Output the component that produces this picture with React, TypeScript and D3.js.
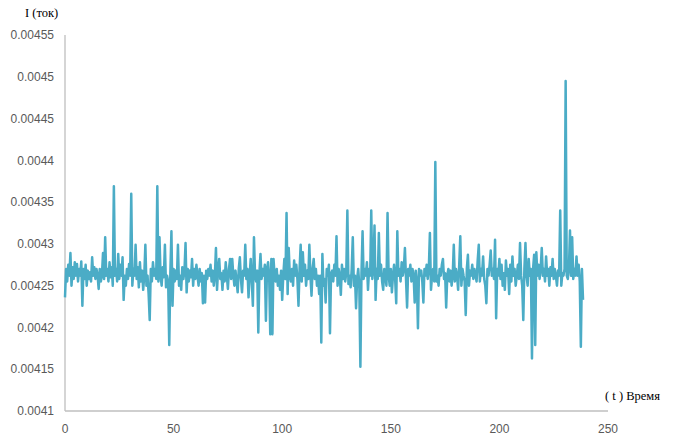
import React, { useEffect, useRef } from "react";
import * as d3 from "d3";

// time step between samples (t units)
const timeStep = 0.5;

// current values I (ток), one sample every 0.5 t, starting at t = 0
const currentValues: number[] = [
  // t 0 – 9.5
  0.004236, 0.00427, 0.004255, 0.004275, 0.004262, 0.004289, 0.00425, 0.004272, 0.004258, 0.004278,
  0.004262, 0.004276, 0.004255, 0.00427, 0.004262, 0.004279, 0.004226, 0.00427, 0.004258, 0.004275,
  // t 10 – 19.5
  0.00425, 0.004268, 0.004258, 0.004266, 0.004255, 0.004284, 0.004262, 0.004272, 0.004258, 0.00427,
  0.004262, 0.004246, 0.00427, 0.004255, 0.004262, 0.004289, 0.004258, 0.004308, 0.004262, 0.00427,
  // t 20 – 29.5
  0.004255, 0.004278, 0.00426, 0.004272, 0.00425, 0.004369, 0.004262, 0.00427, 0.004255, 0.004288,
  0.004258, 0.004275, 0.004262, 0.004284, 0.004233, 0.004262, 0.00425, 0.00427, 0.004258, 0.004276,
  // t 30 – 39.5
  0.004262, 0.00436, 0.00425, 0.00427, 0.004262, 0.004299, 0.004258, 0.004272, 0.004248, 0.004278,
  0.004255, 0.004268, 0.004245, 0.004262, 0.004299, 0.00425, 0.004262, 0.00424, 0.004209, 0.00427,
  // t 40 – 49.5
  0.004255, 0.004278, 0.004262, 0.00427, 0.004258, 0.004369, 0.004255, 0.004308, 0.004262, 0.00425,
  0.004272, 0.00426, 0.004299, 0.004248, 0.004262, 0.004255, 0.004179, 0.004265, 0.004315, 0.004226,
  // t 50 – 59.5
  0.00427, 0.004255, 0.004268, 0.004258, 0.004299, 0.00425, 0.004262, 0.004245, 0.004272, 0.004258,
  0.004268, 0.004301, 0.004242, 0.00427, 0.004255, 0.004268, 0.00426, 0.004282, 0.00425, 0.00427,
  // t 60 – 69.5
  0.004258, 0.004275, 0.004262, 0.00425, 0.00427, 0.004255, 0.004265, 0.004229, 0.004262, 0.00423,
  0.004268, 0.004258, 0.00427, 0.004262, 0.004275, 0.004255, 0.004268, 0.00425, 0.004262, 0.004295,
  // t 70 – 79.5
  0.004245, 0.00427, 0.004282, 0.004258, 0.004265, 0.004245, 0.004268, 0.004255, 0.004278, 0.004262,
  0.004246, 0.00427, 0.004282, 0.004258, 0.004282, 0.004262, 0.00425, 0.004268, 0.004255, 0.004242,
  // t 80 – 89.5
  0.00427, 0.004284, 0.004258, 0.004242, 0.004268, 0.004262, 0.004299, 0.004258, 0.00427, 0.004236,
  0.004262, 0.004282, 0.004255, 0.004226, 0.004308, 0.004262, 0.004255, 0.004268, 0.004194, 0.004265,
  // t 90 – 99.5
  0.004288, 0.004258, 0.00427, 0.004262, 0.004275, 0.004208, 0.00427, 0.004278, 0.004262, 0.004192,
  0.004282, 0.004192, 0.004282, 0.004262, 0.004255, 0.00427, 0.00425, 0.004262, 0.004245, 0.004268,
  // t 100 – 109.5
  0.004233, 0.004262, 0.004282, 0.004258, 0.004337, 0.00424, 0.004295, 0.004262, 0.004255, 0.00427,
  0.00425, 0.00428, 0.004262, 0.004275, 0.004258, 0.004226, 0.00427, 0.004299, 0.004255, 0.00429,
  // t 110 – 119.5
  0.004262, 0.004275, 0.00425, 0.004268, 0.004258, 0.004299, 0.004262, 0.004238, 0.00427, 0.004282,
  0.004258, 0.00427, 0.00425, 0.004262, 0.00424, 0.004262, 0.004182, 0.004288, 0.00425, 0.004258,
  // t 120 – 129.5
  0.00423, 0.00427, 0.004262, 0.004275, 0.004193, 0.004265, 0.004268, 0.004255, 0.004275, 0.004262,
  0.004309, 0.00425, 0.00427, 0.004262, 0.004239, 0.004275, 0.004258, 0.00427, 0.004255, 0.004265,
  // t 130 – 139.5
  0.00434, 0.004252, 0.004262, 0.004248, 0.00427, 0.004308, 0.00425, 0.004262, 0.004223, 0.004258,
  0.00427, 0.00425, 0.004153, 0.004265, 0.004315, 0.004258, 0.00427, 0.004262, 0.004278, 0.004245,
  // t 140 – 149.5
  0.00427, 0.004262, 0.00434, 0.004258, 0.00427, 0.004322, 0.004233, 0.00427, 0.004258, 0.004313,
  0.004262, 0.004275, 0.004255, 0.004245, 0.00427, 0.004262, 0.00425, 0.004337, 0.004262, 0.00425,
  // t 150 – 159.5
  0.00427, 0.004242, 0.004262, 0.004275, 0.004258, 0.004229, 0.004315, 0.004262, 0.00427, 0.004255,
  0.004278, 0.004262, 0.00427, 0.004295, 0.004258, 0.004224, 0.00427, 0.004262, 0.004275, 0.004255,
  // t 160 – 169.5
  0.00427, 0.004262, 0.00423, 0.004268, 0.004255, 0.004199, 0.00427, 0.004262, 0.004268, 0.004255,
  0.00423, 0.00427, 0.004262, 0.004275, 0.004258, 0.00427, 0.004313, 0.004245, 0.004262, 0.00427,
  // t 170 – 179.5
  0.004255, 0.004398, 0.004255, 0.004262, 0.00425, 0.00427, 0.004262, 0.004275, 0.004282, 0.004258,
  0.004265, 0.004224, 0.004262, 0.00427, 0.004255, 0.004268, 0.00425, 0.004262, 0.004299, 0.004255,
  // t 180 – 189.5
  0.00427, 0.004262, 0.004245, 0.004275, 0.004309, 0.00425, 0.00427, 0.004262, 0.004255, 0.004215,
  0.00427, 0.004287, 0.00425, 0.004268, 0.004262, 0.004275, 0.004258, 0.00427, 0.004262, 0.004255,
  // t 190 – 199.5
  0.00428, 0.004299, 0.004255, 0.00427, 0.004262, 0.004285, 0.004258, 0.00425, 0.004229, 0.00427,
  0.004262, 0.004275, 0.004292, 0.004262, 0.00427, 0.004258, 0.004305, 0.004211, 0.00427, 0.004262,
  // t 200 – 209.5
  0.004282, 0.004258, 0.004275, 0.00425, 0.004265, 0.004245, 0.00428, 0.004262, 0.00427, 0.00424,
  0.004275, 0.004255, 0.004285, 0.004262, 0.00427, 0.00425, 0.004262, 0.004275, 0.004258, 0.004301,
  // t 210 – 219.5
  0.004262, 0.00425, 0.004209, 0.00427, 0.004301, 0.004262, 0.00425, 0.004282, 0.004262, 0.00427,
  0.004163, 0.00427, 0.004287, 0.004179, 0.00429, 0.004262, 0.004275, 0.004258, 0.00427, 0.004295,
  // t 220 – 229.5
  0.004262, 0.00427, 0.004255, 0.004285, 0.004262, 0.00427, 0.00425, 0.004272, 0.004262, 0.004282,
  0.004258, 0.00427, 0.004262, 0.00425, 0.004268, 0.004262, 0.00434, 0.00425, 0.004265, 0.004262,
  // t 230 – 238.5
  0.00427, 0.004495, 0.004262, 0.004258, 0.00427, 0.004316, 0.004262, 0.004308, 0.004258, 0.00427,
  0.004262, 0.004285, 0.004262, 0.004275, 0.004255, 0.004177, 0.00427, 0.004233,
];

const xTicks = [0, 50, 100, 150, 200, 250];
const yTicks = [0.0041, 0.00415, 0.0042, 0.00425, 0.0043, 0.00435, 0.0044, 0.00445, 0.0045, 0.00455];
const yTickLabels = ["0.0041", "0.00415", "0.0042", "0.00425", "0.0043", "0.00435", "0.0044", "0.00445", "0.0045", "0.00455"];
const xTitle = "( t ) Время";
const yTitle = "I (ток)";

const W = 673;
const H = 446;

export default function App() {
  const ref = useRef<SVGSVGElement>(null);

  useEffect(() => {
    const svg = d3.select(ref.current);
    svg.selectAll("*").remove();

    const x = d3.scaleLinear().domain([0, 250]).range([65, 608]);
    const y = d3.scaleLinear().domain([0.0041, 0.00455]).range([411, 35]);

    const axisColor = "#bfbfbf";
    const labelColor = "#595959";

    // axes lines
    svg.append("line")
      .attr("x1", x(0)).attr("x2", x(0))
      .attr("y1", y(0.00455)).attr("y2", y(0.0041))
      .attr("stroke", axisColor).attr("stroke-width", 1.3);
    svg.append("line")
      .attr("x1", x(0)).attr("x2", x(250))
      .attr("y1", y(0.0041)).attr("y2", y(0.0041))
      .attr("stroke", axisColor).attr("stroke-width", 1.3);

    // y tick labels
    svg.append("g").selectAll("text")
      .data(yTicks)
      .join("text")
      .attr("x", 54)
      .attr("y", (d) => y(d))
      .attr("dy", "0.35em")
      .attr("text-anchor", "end")
      .attr("font-family", "'Liberation Sans', Arial, sans-serif")
      .attr("font-size", 12)
      .attr("fill", labelColor)
      .text((_, i) => yTickLabels[i]);

    // x tick labels
    svg.append("g").selectAll("text")
      .data(xTicks)
      .join("text")
      .attr("x", (d) => x(d))
      .attr("y", 433)
      .attr("text-anchor", "middle")
      .attr("font-family", "'Liberation Sans', Arial, sans-serif")
      .attr("font-size", 12)
      .attr("fill", labelColor)
      .text((d) => String(d));

    // line
    const line = d3.line<number>()
      .x((_, i) => x(i * timeStep))
      .y((d) => y(d));

    svg.append("path")
      .datum(currentValues)
      .attr("d", line)
      .attr("fill", "none")
      .attr("stroke", "#4BACC6")
      .attr("stroke-width", 2.5)
      .attr("stroke-linejoin", "round");

    // titles
    svg.append("text")
      .attr("x", 25)
      .attr("y", 17)
      .attr("font-family", "'Liberation Serif', 'Times New Roman', serif")
      .attr("font-size", 12.5)
      .attr("fill", "#000")
      .text(yTitle);
    svg.append("text")
      .attr("x", 605)
      .attr("y", 400)
      .attr("font-family", "'Liberation Serif', 'Times New Roman', serif")
      .attr("font-size", 12.5)
      .attr("fill", "#000")
      .text(xTitle);
  }, []);

  return (
    <svg
      ref={ref}
      width={W}
      height={H}
      style={{ position: "absolute", left: 0, top: 0, background: "#fff" }}
    />
  );
}
